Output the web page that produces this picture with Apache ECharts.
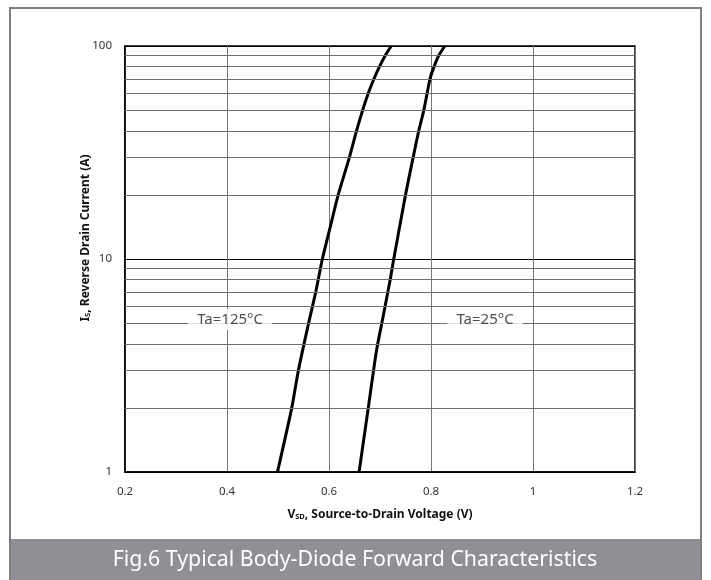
<!DOCTYPE html>
<html><head><meta charset="utf-8">
<script src="https://cdn.jsdelivr.net/npm/echarts@6/dist/echarts.min.js"></script>
<style>html,body{margin:0;padding:0;background:#fff}#c{width:711px;height:580px}</style>
</head><body><div id="c"></div>
<script>
// Data
const xTicks = [0.2, 0.4, 0.6, 0.8, 1, 1.2];
const yTicks = [1, 10, 100];
const minorY = [2,3,4,5,6,7,8,9,20,30,40,50,60,70,80,90];
const v125 = [0.499, 0.527, 0.540, 0.560, 0.574, 0.587, 0.602, 0.618, 0.640, 0.654, 0.666, 0.677, 0.688, 0.699, 0.710, 0.722];
const i125 = [1, 2, 3, 5, 7, 10, 14, 20, 30, 40, 50, 60, 70, 80, 90, 100];
const v25 = [0.659, 0.677, 0.693, 0.705, 0.720, 0.727, 0.750, 0.765, 0.776, 0.786, 0.798, 0.806, 0.815, 0.827];
const i25 = [1, 2, 3.7, 5.2, 8, 10, 20, 30, 40, 50, 70, 80, 90, 100];
const labelTexts = ['Ta=125°C', 'Ta=25°C'];
const labelV = [0.406, 0.906];
const labelI = [5.2, 5.2];
const titleText = 'Fig.6 Typical Body-Diode Forward Characteristics';

const chart = echarts.init(document.getElementById('c'), null, {renderer: 'canvas'});
const font = 'Noto Sans';
const rich = {
  b: {fontSize: 12, fontWeight: 'bold', fontFamily: font, color: '#111'},
  s: {fontSize: 7.5, fontWeight: 'bold', fontFamily: font, color: '#111', verticalAlign: 'bottom', padding: [5,0,0,0]}
};
chart.setOption({
  animation: false,
  backgroundColor: '#fff',
  grid: {left: 125, right: 76, top: 46, bottom: 108, show: true, borderColor: '#000', borderWidth: 1.5, containLabel: false},
  xAxis: {
    type: 'value', min: 0.2, max: 1.2, interval: 0.2,
    axisLine: {show: true, lineStyle: {color: '#000', width: 1.5}},
    axisTick: {show: false},
    axisLabel: {color: '#333', fontSize: 11.5, fontFamily: font, margin: 14,
      formatter: v => String(Math.round(v * 10) / 10)},
    splitLine: {show: true, lineStyle: {color: '#777', width: 1}},
    name: '{b|V}{s|SD}{b|, Source-to-Drain Voltage (V)}',
    nameLocation: 'middle', nameGap: 36,
    nameTextStyle: {rich: rich}
  },
  yAxis: {
    type: 'log', logBase: 10, min: 1, max: 100,
    axisLine: {show: true, lineStyle: {color: '#000', width: 1.5}},
    axisTick: {show: false},
    axisLabel: {color: '#333', fontSize: 11.5, fontFamily: font, margin: 13},
    splitLine: {show: true, lineStyle: {color: '#000', width: 1}},
    name: '{b|I}{s|S}{b|, Reverse Drain Current (A)}',
    nameLocation: 'middle', nameGap: 33, nameRotate: 90, nameMoveOverlap: false,
    nameTextStyle: {rich: rich, padding: [0, 0, 0, 42]}
  },
  series: [
    {
      type: 'line', data: [], silent: true,
      markLine: {
        silent: true, symbol: 'none', label: {show: false},
        lineStyle: {color: '#6e6e6e', width: 1, type: 'solid'},
        data: minorY.map(v => ({yAxis: v}))
      }
    },
    {
      type: 'line', smooth: 0.2, showSymbol: false, silent: true,
      lineStyle: {color: '#000', width: 3},
      data: v125.map((v, k) => [v, i125[k]])
    },
    {
      type: 'line', smooth: 0.2, showSymbol: false, silent: true,
      lineStyle: {color: '#000', width: 3},
      data: v25.map((v, k) => [v, i25[k]])
    },
    {
      type: 'scatter', symbolSize: 0, silent: true, z: 10,
      label: {show: true, position: 'inside', formatter: p => p.data[2],
        backgroundColor: '#fff', padding: [3, 9], color: '#222', fontSize: 15, fontFamily: font},
      data: labelTexts.map((t, k) => [labelV[k], labelI[k], t])
    }
  ],
  graphic: [
    {type: 'rect', silent: true, z: 100, shape: {x: 10, y: 8, width: 691, height: 580},
     style: {fill: 'none', stroke: '#7f7f7f', lineWidth: 2}},
    {type: 'rect', silent: true, z: 99, shape: {x: 10, y: 539, width: 691, height: 45},
     style: {fill: '#8f9095'}},
    {type: 'text', silent: true, z: 101, x: 355, y: 560,
     style: {text: titleText, fill: '#fff', font: '21.3px "Noto Sans"', align: 'center', verticalAlign: 'middle'}}
  ]
});
</script></body></html>
